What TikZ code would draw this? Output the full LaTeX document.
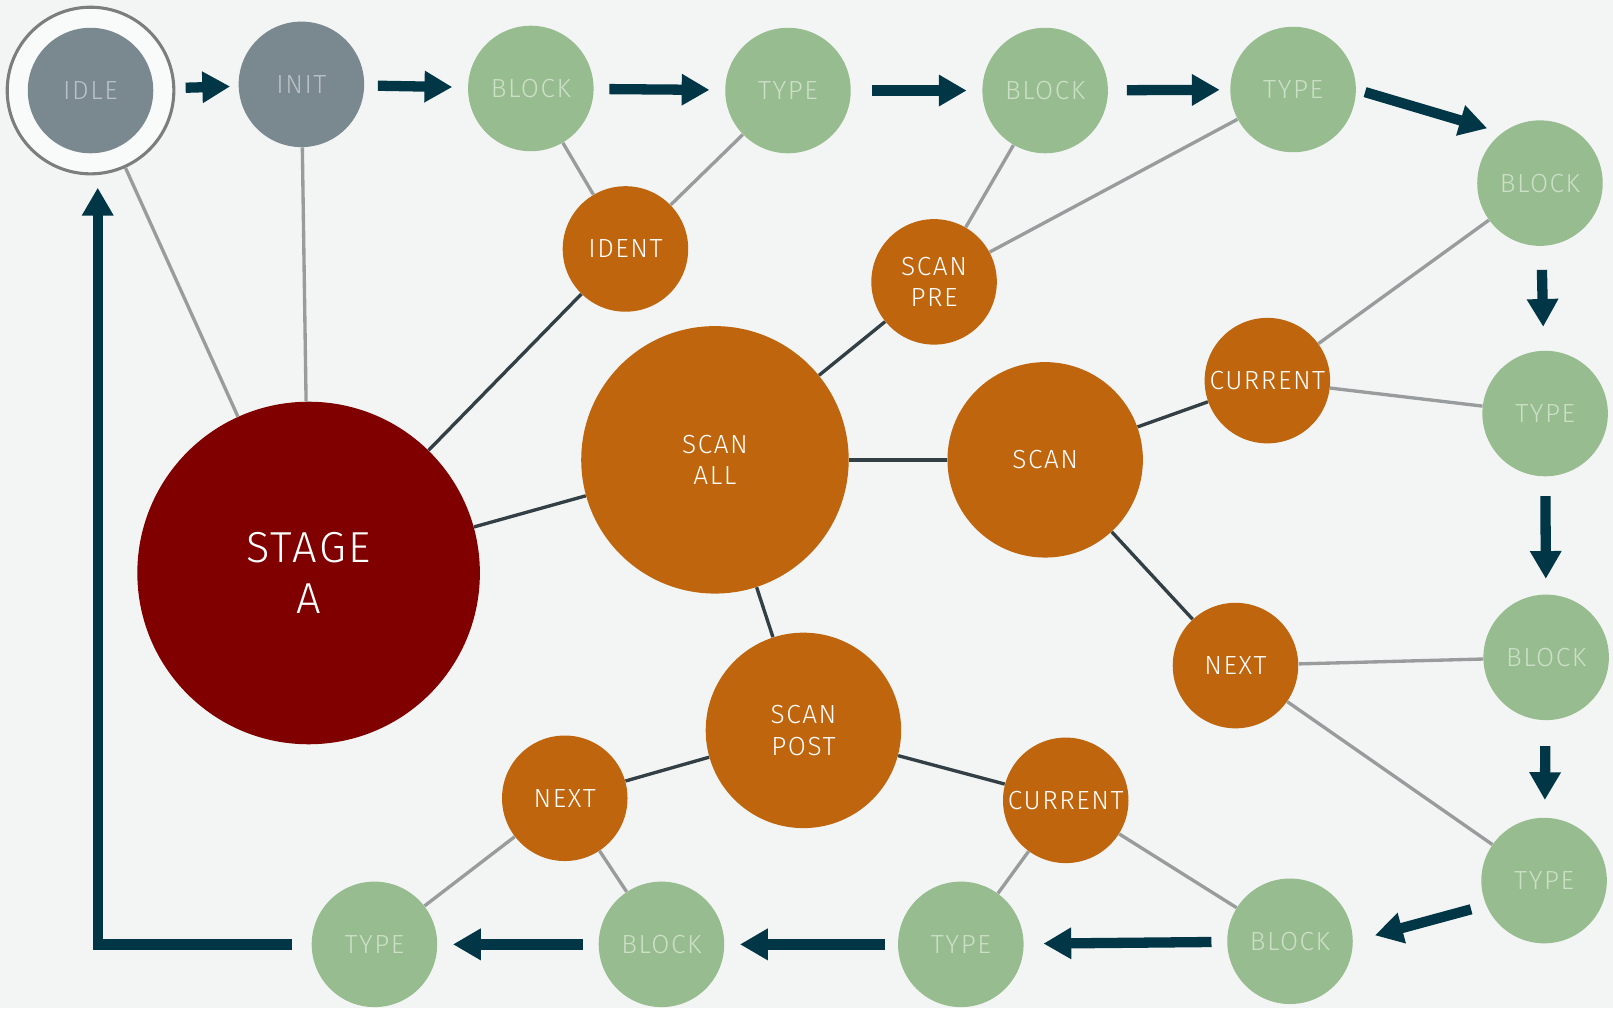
\documentclass[tikz,border=0pt]{standalone}
\usepackage{fontspec}
\setmainfont{Fira Sans}[UprightFont=* Light,LetterSpace=6]
\usetikzlibrary{positioning,arrows.meta}
\definecolor{canvas}{HTML}{F3F5F4}
\definecolor{slate}{HTML}{7A8890}
\definecolor{slatetext}{HTML}{B8C1C6}
\definecolor{sage}{HTML}{97BC8F}
\definecolor{sagetext}{HTML}{CCDFC7}
\definecolor{rust}{HTML}{BF650D}
\definecolor{maroon}{HTML}{800000}
\definecolor{petrol}{HTML}{003645}
\definecolor{tiegray}{HTML}{999C9C}
\definecolor{linkdark}{HTML}{323F45}
\definecolor{ringgray}{HTML}{7D7D7D}
\definecolor{ringfill}{HTML}{F9FAFA}

\begin{document}
\begin{tikzpicture}[
  bubble/.style={circle,inner sep=0pt,minimum size=2.44cm,align=center,font=\fontsize{14.5}{17.6}\selectfont},
  idlest/.style={bubble,fill=slate,text=slatetext},
  blockst/.style={bubble,fill=sage,text=sagetext},
  scanst/.style={bubble,fill=rust,text=white},
  stagest/.style={bubble,fill=maroon,text=white,minimum size=6.66cm,font=\fontsize{24}{28}\selectfont},
  ringst/.style={circle,inner sep=0pt,minimum size=3.24cm,draw=ringgray,line width=0.06cm,fill=ringfill},
  flow/.style={draw=petrol,line width=0.2cm,-{Triangle[width=0.58cm,length=0.54cm]},shorten <=0.3cm,shorten >=0.3cm},
  tie/.style={draw=tiegray,line width=0.065cm},
  link/.style={draw=linkdark,line width=0.065cm}
]
\fill[canvas] (0,0) rectangle (31.36,-19.6);
\useasboundingbox (0,0) rectangle (31.36,-19.6);

% start states
\node[ringst] (idle) at (1.76,-1.76) {};
\node[idlest] (idlecore) at (idle) {IDLE};
\node[idlest] (init) at (5.86,-1.64) {INIT};

% outer ring of block / type states
\node[blockst] (b1) at (10.32,-1.72) {BLOCK};
\node[blockst] (t1) at (15.32,-1.76) {TYPE};
\node[blockst] (b2) at (20.32,-1.76) {BLOCK};
\node[blockst] (t2) at (25.14,-1.74) {TYPE};
\node[blockst] (b3) at (29.94,-3.56) {BLOCK};
\node[blockst] (t3) at (30.04,-8.04) {TYPE};
\node[blockst] (b4) at (30.06,-12.78) {BLOCK};
\node[blockst] (t4) at (30.02,-17.12) {TYPE};
\node[blockst] (b5) at (25.08,-18.3) {BLOCK};
\node[blockst] (t5) at (18.68,-18.36) {TYPE};
\node[blockst] (b6) at (12.86,-18.36) {BLOCK};
\node[blockst] (t6) at (7.28,-18.36) {TYPE};

% scan states
\node[stagest] (stage) at (6.0,-11.14) {STAGE\\A};
\node[scanst,minimum size=5.2cm] (all) at (13.9,-8.94) {SCAN\\ALL};
\node[scanst,minimum size=3.8cm] (scan) at (20.32,-8.94) {SCAN};
\node[scanst,minimum size=3.8cm] (post) at (15.62,-14.2) {SCAN\\POST};
\node[scanst] (ident) at (12.16,-4.84) {IDENT};
\node[scanst] (pre) at (18.16,-5.48) {SCAN\\PRE};
\node[scanst] (cur1) at (24.64,-7.4) {CURRENT};
\node[scanst] (next1) at (24.02,-12.94) {NEXT};
\node[scanst] (cur2) at (20.72,-15.56) {CURRENT};
\node[scanst] (next2) at (10.98,-15.52) {NEXT};

% grey ties to the outer states
\draw[tie] (idle) -- (stage);
\draw[tie] (init) -- (stage);
\draw[tie] (b1) -- (ident);
\draw[tie] (t1) -- (ident);
\draw[tie] (b2) -- (pre);
\draw[tie] (t2) -- (pre);
\draw[tie] (b3) -- (cur1);
\draw[tie] (t3) -- (cur1);
\draw[tie] (b4) -- (next1);
\draw[tie] (t4) -- (next1);
\draw[tie] (b5) -- (cur2);
\draw[tie] (t5) -- (cur2);
\draw[tie] (b6) -- (next2);
\draw[tie] (t6) -- (next2);

% dark links between scan states
\draw[link] (stage) -- (ident);
\draw[link] (stage) -- (all);
\draw[link] (all) -- (pre);
\draw[link] (all) -- (scan);
\draw[link] (all) -- (post);
\draw[link] (scan) -- (cur1);
\draw[link] (scan) -- (next1);
\draw[link] (post) -- (cur2);
\draw[link] (post) -- (next2);

% flow arrows
\draw[flow,shorten <=0.2cm,shorten >=0.16cm] (idle) -- (init);
\draw[flow,shorten <=0.26cm] (init) -- (b1);
\draw[flow] (b1) -- (t1);
\draw[flow,shorten <=0.4cm] (t1) -- (b2);
\draw[flow,shorten <=0.36cm,shorten >=0.2cm] (b2) -- (t2);
\draw[flow,shorten <=0.18cm] (t2.east) -- (b3.127);
\draw[flow,shorten <=0.46cm,shorten >=0.46cm] (b3) -- (t3);
\draw[flow,shorten <=0.38cm] (t3) -- (b4);
\draw[flow,shorten <=0.5cm,shorten >=0.34cm] (b4) -- (t4);
\draw[flow,shorten >=0.44cm] (t4.203) -- (b5.east);
\draw[flow,shorten >=0.38cm] (b5) -- (t5);
\draw[flow,shorten <=0.24cm] (t5) -- (b6);
\draw[flow] (b6) -- (t6);
\draw[flow,shorten <=0.38cm,shorten >=0.24cm] (t6.west) -| ([xshift=0.14cm]idle.south);
\end{tikzpicture}
\end{document}
